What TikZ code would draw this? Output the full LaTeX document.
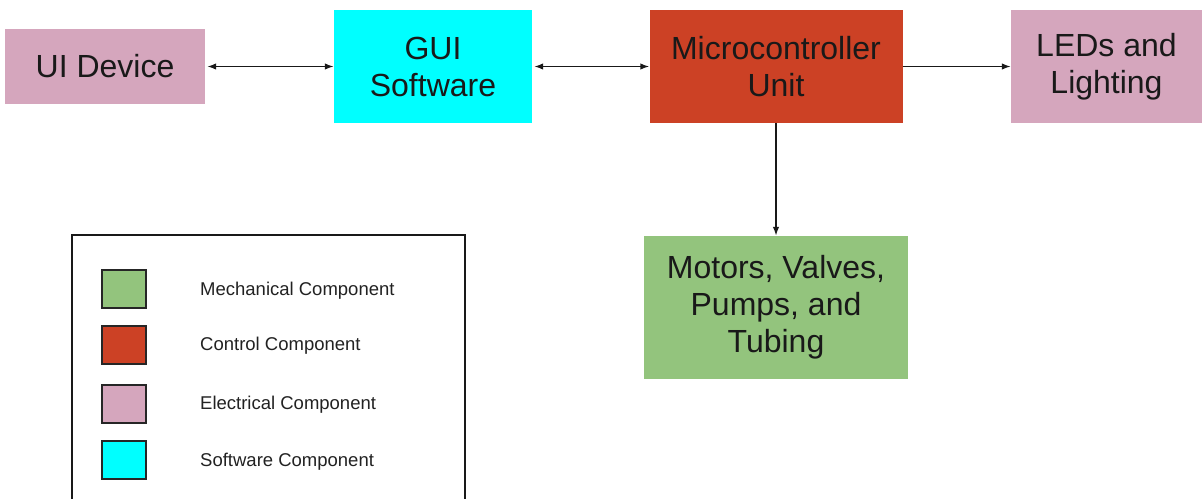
\documentclass[tikz,border=0pt]{standalone}
\usepackage{fontspec}
\setmainfont{Liberation Sans}
\usetikzlibrary{arrows.meta}
\definecolor{elec}{HTML}{D5A6BD}
\definecolor{soft}{HTML}{00FFFF}
\definecolor{ctrl}{HTML}{CC4125}
\definecolor{mech}{HTML}{93C47D}
\definecolor{legtxt}{HTML}{222222}
\tikzset{
  blk/.style={inner sep=0pt, align=center, font=\fontsize{32}{37}\selectfont, text=black!90},
  swatch/.style={draw=black!85, line width=1.2pt, minimum width=44pt, minimum height=38pt, inner sep=0pt},
  legtext/.style={anchor=west, inner sep=0pt, font=\fontsize{18.5}{21}\selectfont, text=legtxt},
  conn/.style={line width=1.5pt, black!90},
  tip/.style={-{Latex[length=9pt,width=6.5pt]}},
  dtip/.style={{Latex[length=9pt,width=6.5pt]}-{Latex[length=9pt,width=6.5pt]}}
}
\begin{document}
\begin{tikzpicture}[x=1pt,y=-1pt]
\useasboundingbox (0,0) rectangle (1202,498);
\fill[white] (0,0) rectangle (1202,498);
% main blocks
\node[blk, fill=elec, minimum width=200pt, minimum height=75pt] (ui) at (105,66.5) {UI Device};
\node[blk, fill=soft, minimum width=198pt, minimum height=113pt] (gui) at (433,66.5) {GUI\\Software};
\node[blk, fill=ctrl, minimum width=253pt, minimum height=113pt] (mcu) at (776,66.5) {Microcontroller\\Unit};
\node[blk, fill=elec, minimum width=191pt, minimum height=113pt] (led) at (1106.5,66.5) {LEDs and\\Lighting};
\node[blk, fill=mech, minimum width=264pt, minimum height=143pt] (mot) at (776,307.5) {Motors, Valves,\\Pumps, and\\Tubing};
% connectors
\draw[conn, dtip] ([xshift=2pt]ui.east) -- (gui.west);
\draw[conn, dtip] ([xshift=2pt]gui.east) -- (mcu.west);
\draw[conn, tip] (mcu.east) -- (led.west);
\draw[conn, tip] (mcu.south) -- (mot.north);
% legend
\draw[line width=2pt, black!90] (72,500) -- (72,235) -- (465,235) -- (465,500);
\node[swatch, fill=mech] (s1) at (124,289) {};
\node[swatch, fill=ctrl] (s2) at (124,345) {};
\node[swatch, fill=elec] (s3) at (124,404) {};
\node[swatch, fill=soft] (s4) at (124,460) {};
\node[legtext] (t1) at (200,291) {Mechanical Component};
\node[legtext] (t2) at (200,346) {Control Component};
\node[legtext] (t3) at (200,405) {Electrical Component};
\node[legtext] (t4) at (200,462) {Software Component};
\end{tikzpicture}
\end{document}
